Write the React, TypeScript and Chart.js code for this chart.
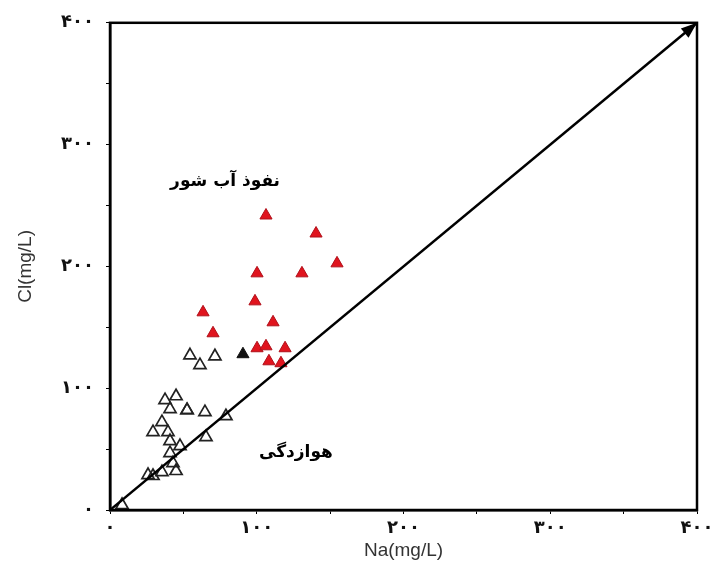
import React, { useEffect, useRef } from "react";
import { Chart, registerables } from "chart.js";

Chart.register(...registerables);

// Red filled triangles (saline intrusion)
const redNa = [106.3, 140.4, 154.7, 100.2, 130.8, 98.8, 63.4, 111.1, 70.2, 100.2, 106.3, 119.3, 108.3, 116.5];
const redCl = [241.8, 227.0, 202.5, 194.3, 194.3, 171.3, 162.3, 154.1, 145.1, 132.8, 134.4, 132.8, 122.1, 120.5];

// Black filled triangle
const blackNa = [90.6];
const blackCl = [127.9];

// Open triangles (weathering)
const openNa = [54.5, 61.3, 71.5, 37.5, 45.0, 40.9, 52.5, 52.5, 64.7, 79.0, 35.4, 29.3, 39.5, 40.9, 47.7, 65.4, 40.9, 42.9, 45.0, 35.4, 25.9, 29.3, 8.2];
const openCl = [127.0, 118.9, 126.2, 90.2, 93.4, 82.8, 82.0, 82.0, 80.3, 77.0, 72.1, 63.9, 63.9, 56.6, 52.5, 59.8, 46.7, 38.5, 32.0, 31.1, 28.7, 27.9, 4.1];

// 1:1 line
const lineNa = [0, 400];
const lineCl = [0, 400];

const xTicks = [0, 100, 200, 300, 400];
const yTicks = [0, 100, 200, 300, 400];

const labels = ["نفوذ آب شور", "هوازدگی"];
const labelNa = [78.4, 126.7];
const labelCl = [269.7, 47.5];

const xTitle = "Na(mg/L)";
const yTitle = "Cl(mg/L)";

const toPersian = (v: number) =>
  String(v).replace(/[0-9]/g, (d) => "۰۱۲۳۴۵۶۷۸۹"[Number(d)]);

const pts = (xs: number[], ys: number[]) => xs.map((x, i) => ({ x, y: ys[i] }));

const framePlugin = {
  id: "framePlugin",
  afterDatasetsDraw(chart: any) {
    const { ctx, chartArea: a, scales } = chart;
    ctx.save();
    ctx.strokeStyle = "#000";
    ctx.lineWidth = 2.5;
    ctx.strokeRect(a.left, a.top, a.right - a.left, a.bottom - a.top);
    const ex = scales.x.getPixelForValue(lineNa[1]);
    const ey = scales.y.getPixelForValue(lineCl[1]);
    const sx = scales.x.getPixelForValue(lineNa[0]);
    const sy = scales.y.getPixelForValue(lineCl[0]);
    const ang = Math.atan2(ey - sy, ex - sx);
    const len = 16, w = 6;
    ctx.fillStyle = "#000";
    ctx.beginPath();
    ctx.moveTo(ex, ey);
    ctx.lineTo(ex - len * Math.cos(ang) + w * Math.sin(ang), ey - len * Math.sin(ang) - w * Math.cos(ang));
    ctx.lineTo(ex - len * Math.cos(ang) - w * Math.sin(ang), ey - len * Math.sin(ang) + w * Math.cos(ang));
    ctx.closePath();
    ctx.fill();
    ctx.font = "bold 17px 'DejaVu Sans'";
    ctx.textAlign = "center";
    ctx.textBaseline = "middle";
    ctx.direction = "rtl";
    labels.forEach((t, i) => {
      ctx.fillText(t, scales.x.getPixelForValue(labelNa[i]), scales.y.getPixelForValue(labelCl[i]));
    });
    ctx.restore();
  },
};

export default function App() {
  const ref = useRef<HTMLCanvasElement>(null);
  useEffect(() => {
    if (!ref.current) return;
    const chart = new Chart(ref.current, {
      type: "scatter",
      data: {
        datasets: [
          {
            type: "line",
            data: pts(lineNa, lineCl),
            borderColor: "#000",
            borderWidth: 2.5,
            pointRadius: 0,
            fill: false,
          } as any,
          {
            data: pts(openNa, openCl),
            pointStyle: "triangle",
            pointRadius: 7,
            backgroundColor: "rgba(255,255,255,0)",
            borderColor: "#222",
            borderWidth: 1.7,
          },
          {
            data: pts(blackNa, blackCl),
            pointStyle: "triangle",
            pointRadius: 7,
            backgroundColor: "#111",
            borderColor: "#111",
            borderWidth: 1,
          },
          {
            data: pts(redNa, redCl),
            pointStyle: "triangle",
            pointRadius: 7,
            backgroundColor: "#e0141e",
            borderColor: "#b0101a",
            borderWidth: 1,
          },
        ],
      },
      options: {
        animation: false,
        responsive: false,
        layout: { padding: { top: 22, right: 29, left: 0, bottom: 0 } },
        plugins: { legend: { display: false }, tooltip: { enabled: false } },
        scales: {
          x: {
            type: "linear",
            min: 0,
            max: 400,
            afterBuildTicks: (s: any) => {
              s.ticks = [0, 50, 100, 150, 200, 250, 300, 350, 400].map((v) => ({ value: v }));
            },
            afterFit: (s: any) => {
              s.height = 67;
            },
            grid: { drawOnChartArea: false, drawTicks: true, tickLength: 4, color: "#000" },
            border: { display: true, color: "#000", width: 2.5 },
            ticks: {
              padding: 4,
              color: "#111",
              font: { family: "'DejaVu Sans'", size: 18, weight: "bold" },
              callback: (v: any) => (xTicks.includes(Number(v)) ? toPersian(Number(v)) : ""),
            },
            title: {
              display: true,
              text: xTitle,
              color: "#333",
              font: { family: "'Liberation Sans'", size: 19 },
              padding: { top: 2, bottom: 15 },
            },
          },
          y: {
            type: "linear",
            min: 0,
            max: 400,
            afterBuildTicks: (s: any) => {
              s.ticks = [0, 50, 100, 150, 200, 250, 300, 350, 400].map((v) => ({ value: v }));
            },
            afterFit: (s: any) => {
              s.width = 110;
            },
            grid: { drawOnChartArea: false, drawTicks: true, tickLength: 4, color: "#000" },
            border: { display: true, color: "#000", width: 2.5 },
            ticks: {
              padding: 12,
              color: "#111",
              font: { family: "'DejaVu Sans'", size: 18, weight: "bold" },
              callback: (v: any) => (yTicks.includes(Number(v)) ? toPersian(Number(v)) : ""),
            },
            title: {
              display: true,
              text: yTitle,
              color: "#333",
              font: { family: "'Liberation Sans'", size: 19 },
              padding: { top: 14, bottom: 0 },
            },
          },
        },
      },
      plugins: [framePlugin],
    } as any);
    return () => chart.destroy();
  }, []);
  return (
    <div style={{ position: "fixed", left: 0, top: 0, width: 726, height: 577, background: "#fff" }}>
      <canvas ref={ref} width={726} height={577} />
    </div>
  );
}
